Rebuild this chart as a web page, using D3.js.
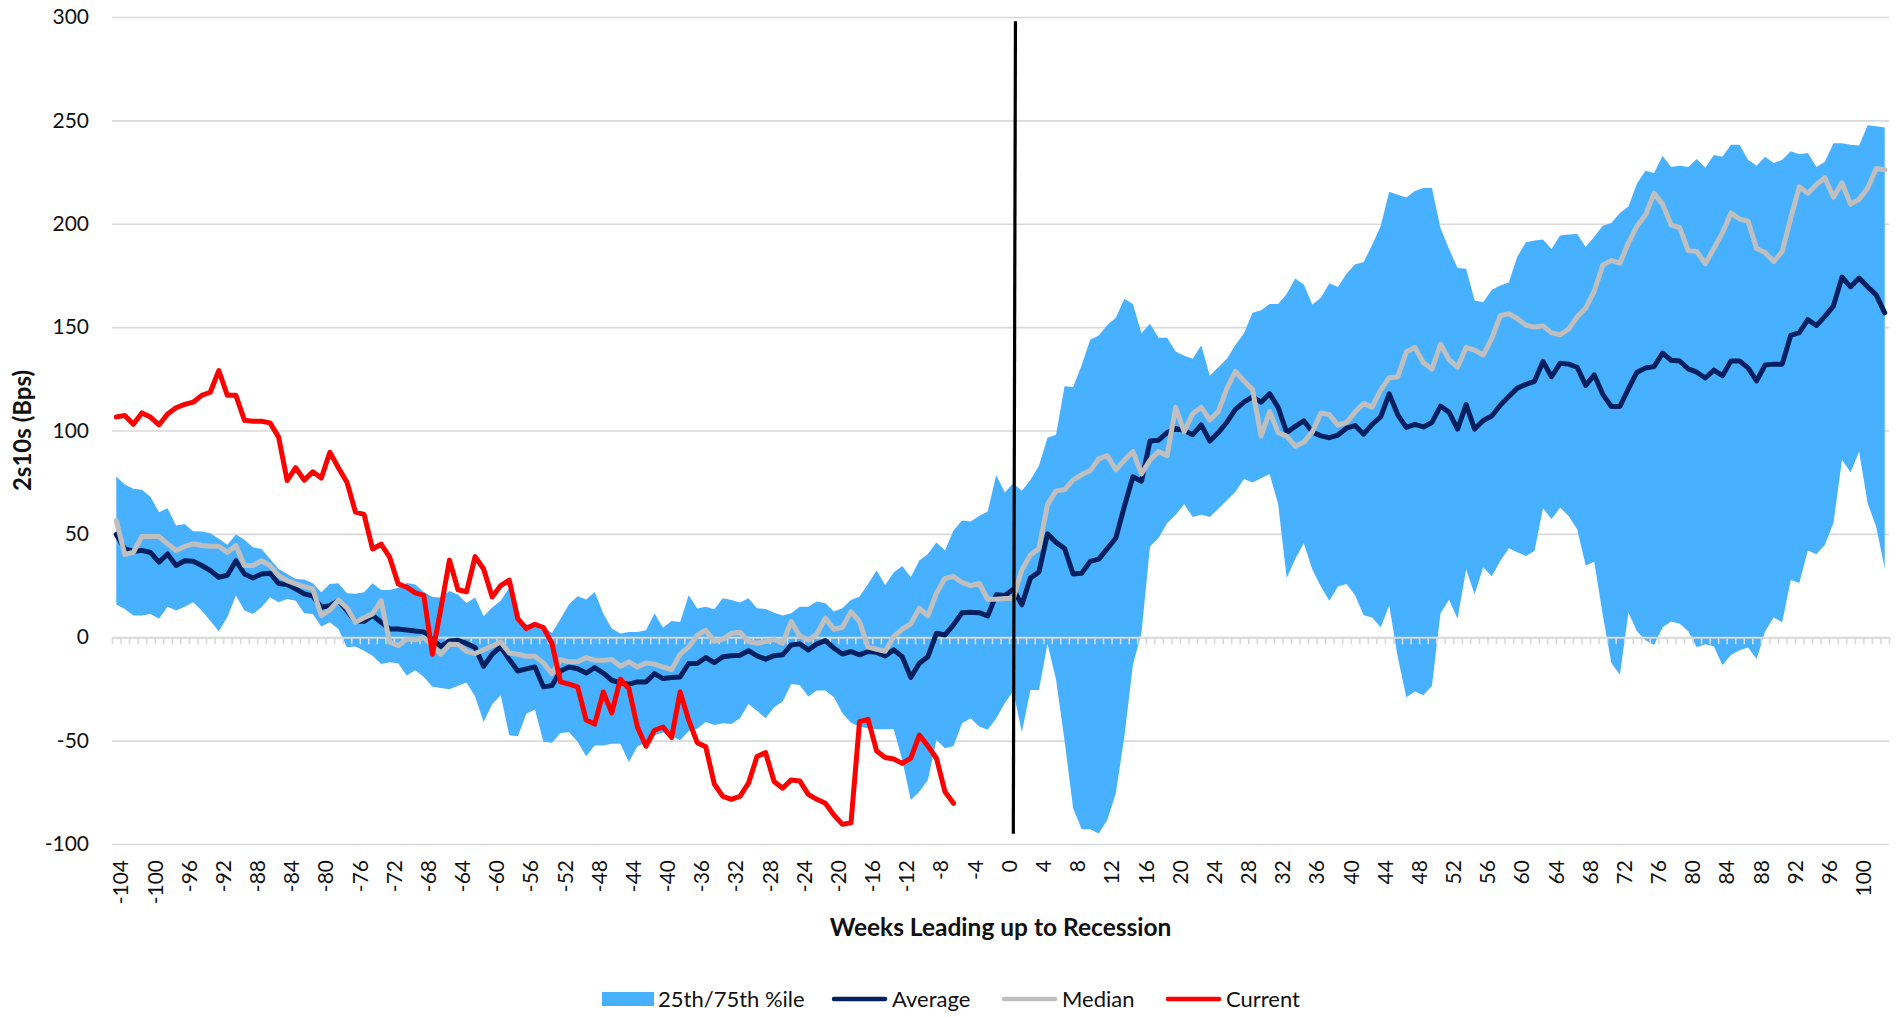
<!DOCTYPE html>
<html>
<head>
<meta charset="utf-8">
<script src="https://cdn.jsdelivr.net/npm/d3@7"></script>
<style>
  body { margin: 0; background: #fff; }
  text { font-family: Lato, "Open Sans", sans-serif; fill: #111; }
</style>
</head>
<body>
<div id="chart"></div>
<script>
// weeks before/after the start of a recession (categories)
const weeks = d3.range(-104, 104);

// 25th / 75th percentile band
const upper = [77.7, 73.9, 71.8, 71.3, 68, 60.5, 62.4, 54, 54.8, 51.3, 51.1, 50.3, 47.6, 44.8, 49.7, 47.1, 43.5, 42.7, 37.9, 33, 30.6, 28.2, 27.9, 26.1, 21.8, 25.8, 26.1, 21.3, 21, 21.8, 26.1, 22.9, 22.9, 23.9, 26.3, 25.5,
  21.9, 19.5, 19.2, 22.4, 20.6, 16.6, 19.2, 10.2, 14.4, 17.6, 24, 8.5, 6.3, 5.8, 5, 2.1, 9, 16, 19.8, 18.2, 21.9, 11.5, 4.2, 1.8, 2.6, 2.6, 3.4, 11.5, 4.7, 7.9, 7.4, 20.3, 13.9, 14.7, 13.5,
  18.9, 18, 16.8, 18.9, 14, 13.7, 11.9, 10.5, 11.6, 14.8, 14.8, 17.3, 16.5, 12.4, 14, 18, 19.7, 25.8, 32.3, 25.3, 31.3, 34.5, 29, 37.1, 40.3, 45.8, 41.9, 51.6, 56.5, 56, 58.7, 60.8, 78.5, 70, 74.5,
  70.8, 76.1, 83, 96.5, 98, 121.4, 121, 131.6, 143.9, 145.9, 151, 154.5, 163.7, 161.2, 147, 151.6, 144.9, 144.9, 138.2, 136.1, 134.7, 141.2, 126.5, 130.6, 134.7, 141.4, 147, 157, 158.2, 161.2, 161.2, 166, 173.5, 170.6,
  161, 164.2, 171.2, 169.4, 175.8, 180.4, 181.4, 189.7, 198.9, 215.5, 214, 212.7, 215.9, 217.3, 217.3, 198, 187.8, 178.6, 178.2, 162.9, 162, 167.9, 170.1, 171.6, 184.1, 191, 191.9, 192.4, 187.8, 194.3, 194.8, 195, 188.7, 193.7, 199,
  200.4, 205.2, 208.4, 219.5, 225.6, 224.6, 232.8, 227.5, 228, 227.5, 231.3, 227.1, 233.2, 232.4, 238.2, 238.2, 230.9, 228, 232.4, 229.4, 230.9, 235.1, 233.6, 234.2, 227.5, 230, 238.9, 238.9, 238.2, 237.8, 247.7, 247.1, 246.6];

const lower = [15.8, 13.7, 10.5, 10.5, 11.3, 8.9, 14.8, 12.9, 14.8, 16.9, 12.9, 8, 2.9, 9.7, 20.2, 12.9, 11.3, 14.5, 19.4, 16.9, 18.5, 17.7, 11.6, 11.3, 5.2, 7.3, 4, -4.8, -4.5, -6.5, -8.9, -12.9, -12.1, -12.6, -18.5, -16,
  -19.2, -24, -24.5, -25.2, -23.4, -21.9, -28.5, -41, -32.4, -28, -47.4, -47.9, -37, -35, -50.6, -51, -46.3, -46, -50.6, -57.6, -52.3, -52.3, -51.5, -51.5, -60.3, -52.7, -51, -47.4, -46.1, -47.9, -49.8, -45.3, -44.2, -41, -42.5,
  -41.6, -41.9, -39.2, -32.3, -35.5, -39.2, -33.9, -31.1, -22.6, -23.1, -28.7, -25.8, -25.8, -29, -36.8, -41.3, -43.2, -44, -44.5, -44.5, -44.5, -59.4, -78.7, -74.7, -69, -49.7, -53.7, -52.6, -41.6, -39.2, -43.2, -44.8, -39.2, -31.9, -26,
  -46, -25.5, -25.5, -3.1, -20.4, -50, -82.7, -92.9, -92.9, -94.9, -88.4, -75.5, -48, -13.3, 2, 43.9, 48, 55.1, 59.2, 64.3, 58.2, 59.2, 58.2, 62.2, 66.3, 70.4, 76.5, 74.9, 76.9, 79, 64.3, 28.6, 37.8, 45.5,
  32.8, 24.5, 17.7, 24.5, 25.8, 20.3, 10.7, 9.6, 4.8, 15.3, -9.6, -29, -26.2, -28, -23.4, 11.6, 18.1, 8.9, 32.8, 20.8, 33.8, 29.5, 36.9, 43, 41.1, 39.3, 41.7, 62.4, 57.2, 62.7, 58.7, 52.2, 34.7, 36.5, 10.6,
  -12.4, -18.1, 12, 2.9, -1.5, -3.8, 4.8, 7.6, 6.5, 2.9, -4.8, -3.4, -4.4, -13.4, -8.6, -6.3, -5, -10.5, 2.9, 9.5, 7.3, 27.7, 26.3, 42, 40.1, 44.8, 55.3, 85.9, 79.8, 89.7, 64.9, 53.4, 33.4];

const average = [49.7, 42.7, 41.6, 42, 41, 36.3, 40.3, 34.7, 37, 36.8, 34.7, 32.3, 29, 30, 37, 30.6, 28.7, 30.6, 31, 26, 25.5, 23.4, 21, 20, 14.5, 15.3, 17.7, 12.9, 7.7, 7.7, 10.5, 7.3, 4, 4, 3.5, 3,
  2.6, -1.1, -4.4, -1.8, -1.5, -3, -5, -14, -8.2, -4.7, -10.8, -16.3, -15.3, -14.4, -24, -23.4, -16.3, -14.4, -15.2, -17.3, -14.7, -17.3, -20.8, -22, -22.7, -21.6, -21.6, -17.6, -20, -19.5, -19.2, -12.7, -12.7, -9.8, -12.3,
  -9.4, -9, -8.7, -6.5, -9, -10.6, -8.9, -8.5, -3.7, -3.2, -6.1, -3.2, -1.6, -5.3, -8.1, -6.9, -8.5, -6.9, -7.3, -9, -6.1, -9.4, -19.4, -12.6, -9.4, 1.9, 1.1, 6, 11.9, 12.1, 11.9, 10.3, 20.5, 20.2, 23.2,
  15.7, 28.6, 31.6, 50, 45.9, 42.9, 30.6, 31, 36.7, 37.8, 42.9, 48, 63.3, 77.6, 75.5, 94.9, 95.3, 99, 101, 100, 98, 102.7, 94.9, 99, 104, 110.2, 113.7, 116.3, 113.7, 117.8, 111.2, 99, 102, 104.7,
  99.3, 97.4, 96.5, 97.8, 101.1, 102.4, 98.2, 103, 106.6, 117.7, 107.6, 101.5, 103, 101.7, 103.9, 111.8, 108.9, 100.7, 112.5, 100.7, 104.8, 107, 112.2, 116.4, 120.5, 122.3, 123.8, 133.4, 126, 132.5, 132.1, 130.6, 121.8, 126.9, 117.5,
  111.6, 111.6, 120.2, 128.2, 130.2, 130.9, 137.4, 134, 133.6, 129.8, 128.2, 125.4, 129.2, 126.5, 133.6, 133.6, 130.3, 124, 131.7, 132.1, 132.1, 146, 147.3, 153.6, 150.8, 155.2, 160.3, 174.2, 169.5, 173.7, 169.5, 165.6, 156.9];

const median = [56.5, 40, 41.1, 48.7, 48.7, 48.7, 45.2, 42, 43.9, 45.2, 44.4, 44, 44, 41.1, 44.4, 34.7, 34.7, 37, 34.7, 29.8, 27.4, 25.8, 24.5, 23.4, 10.5, 13.2, 18, 14.2, 7.3, 9.4, 11.3, 17.7, -2.4, -4, -0.8, -1.2,
  -0.2, -3.9, -8.2, -3.4, -3.5, -6.8, -7.9, -6, -4.2, -2.3, -7.6, -8.2, -9.2, -9.2, -12.4, -17.6, -10.8, -11.9, -11.9, -9.8, -11.1, -11.1, -10.8, -14, -11.9, -14.4, -12.4, -13, -14.4, -15.6, -8.2, -4.7, 1, 3.4, -2,
  -1, 1.9, 2.4, -2.1, -2.9, -2.1, -1, -2.9, 7.6, 0.6, -1.3, 1.6, 9.2, 3.9, 4.8, 12.4, 7.6, -4.8, -5.8, -6.8, 0.3, 3.9, 6.5, 14, 10.3, 21.3, 28.5, 29.4, 26.5, 25, 26.1, 18.4, 18.4, 18.7, 18.9,
  32.7, 39.8, 42.9, 64.3, 70.8, 71.4, 76.1, 78.6, 80.6, 86.3, 87.8, 81, 85.7, 89.8, 79, 85.7, 89.8, 87.8, 111.2, 99.4, 108.2, 111.2, 105.1, 109.2, 120.4, 128.6, 123.9, 119.8, 97.3, 109.2, 99, 97.3, 92.4, 94.3,
  99.3, 108.5, 107.6, 102.6, 103.9, 108.9, 113.1, 111.3, 119.6, 125.5, 126, 138, 140.2, 132.8, 129.7, 141.7, 134.3, 130.6, 140.2, 138.9, 136.5, 144.5, 155.5, 156.5, 154.2, 150.9, 150, 150.6, 147.2, 146.3, 149.1, 155, 159.2, 167.5, 180,
  182.3, 180.9, 190.8, 198.9, 204.2, 214.7, 209.5, 199.4, 198.1, 187, 186.6, 180.7, 188, 195.6, 205.2, 202.3, 201.3, 188, 186.1, 181.7, 186.6, 202.7, 217.9, 214.7, 218.9, 222.3, 212.8, 219.8, 209.5, 211.8, 217.2, 226.7, 226.1];

// current cycle, only up to week -6
const current = [106.5, 107.3, 103, 108.5, 106.5, 102.7, 108, 111, 112.6, 113.7, 117, 118.5, 129, 117, 117, 105, 104.5, 104.5, 103.7, 96.8, 75.8, 82, 76, 80, 77, 89.5, 82, 75, 60.5, 59.4, 42.7, 45, 38.7, 25.8, 24.2, 21.5,
  20.3, -8.2, 14, 37.3, 23, 22, 39, 33, 19.5, 25, 27.6, 9, 4.2, 6.3, 4.7, -3, -21.6, -22.7, -24, -40, -42, -26.5, -36.6, -20.3, -24.8, -43.4, -52.7, -45, -43.4, -48.5, -26.5, -40, -51, -53, -71,
  -77, -78.4, -77, -70.6, -57.7, -55.8, -69.8, -73, -69, -69.5, -76, -78.4, -80.3, -86, -90.5, -89.7, -40.8, -39.7, -55, -58.2, -58.9, -61, -58.5, -47.3, -52.6, -58.5, -74.7, -80.3];

// recession start marker (week, bps)
const recessionWeeks = [1.25, 1.0];
const recessionValues = [298, -95];

const yTicks = [-100, -50, 0, 50, 100, 150, 200, 250, 300];
const xTickLabels = [-104, -100, -96, -92, -88, -84, -80, -76, -72, -68, -64, -60, -56, -52, -48, -44, -40, -36, -32, -28, -24, -20, -16, -12, -8, -4, 0, 4, 8, 12, 16, 20, 24, 28, 32, 36, 40, 44, 48, 52, 56, 60, 64, 68, 72, 76, 80, 84, 88, 92, 96, 100];

const legendLabels = ["25th/75th %ile", "Average", "Median", "Current"];

const width = 1898, height = 1017;
const plotLeft = 112, plotRight = 1889, plotTop = 17, plotBottom = 844;

const colBand = "#48b1ff", colAvg = "#002060", colMed = "#bfbfbf", colCur = "#ff0000", colGrid = "#d9d9d9";

const svg = d3.select("#chart").append("svg")
  .attr("width", width)
  .attr("height", height);

const x = d3.scaleLinear().domain([weeks[0] - 0.5, weeks[weeks.length - 1] + 0.5]).range([plotLeft, plotRight]);
const y = d3.scaleLinear().domain([-100, 300]).range([plotBottom, plotTop]);

// gridlines
svg.append("g")
  .attr("transform", `translate(${plotLeft},0)`)
  .call(d3.axisLeft(y).tickValues(yTicks).tickSize(-(plotRight - plotLeft)).tickFormat(""))
  .call(g => g.select(".domain").remove())
  .call(g => g.selectAll("line").attr("stroke", colGrid).attr("stroke-width", 1.6));

// y labels (plain hyphen like the original)
svg.append("g")
  .attr("transform", `translate(${plotLeft},0)`)
  .call(d3.axisLeft(y).tickValues(yTicks).tickSize(0).tickPadding(23).tickFormat(d => String(d)))
  .call(g => g.select(".domain").remove())
  .call(g => g.selectAll("text").attr("font-size", 21).attr("font-family", "Lato, sans-serif").attr("fill", "#111"));

// band
const bandData = weeks.map((w, i) => ({ w, lo: lower[i], hi: upper[i] }));
svg.append("path")
  .datum(bandData)
  .attr("fill", colBand)
  .attr("d", d3.area().x(d => x(d.w)).y0(d => y(d.lo)).y1(d => y(d.hi)));

// zero axis line with category ticks
svg.append("g")
  .attr("transform", `translate(0,${y(0)})`)
  .call(d3.axisBottom(x).tickValues(d3.range(weeks.length + 1).map(j => weeks[0] - 0.5 + j)).tickSize(7).tickFormat("").tickSizeOuter(0))
  .call(g => g.select(".domain").attr("stroke", colGrid).attr("stroke-width", 2))
  .call(g => g.selectAll("line").attr("stroke", colGrid).attr("stroke-width", 1.6));

// x labels at the bottom
svg.append("g")
  .attr("transform", `translate(0,${plotBottom})`)
  .call(d3.axisBottom(x).tickValues(xTickLabels).tickSize(0).tickFormat(d => String(d)))
  .call(g => g.select(".domain").remove())
  .call(g => g.selectAll("text")
    .attr("transform", "rotate(-90)")
    .attr("text-anchor", "end")
    .attr("x", -16)
    .attr("y", 0)
    .attr("dy", "0.55em")
    .attr("font-size", 21)
    .attr("font-family", "Lato, sans-serif")
    .attr("fill", "#111"));

// lines
const line = d3.line().x(d => x(d[0])).y(d => y(d[1]));
const series = [
  { values: average, color: colAvg },
  { values: median, color: colMed },
  { values: current, color: colCur }
];
series.forEach(s => {
  svg.append("path")
    .datum(s.values.map((v, i) => [weeks[i], v]))
    .attr("fill", "none")
    .attr("stroke", s.color)
    .attr("stroke-width", 5)
    .attr("stroke-linejoin", "round")
    .attr("stroke-linecap", "round")
    .attr("d", line);
});

// recession marker
svg.append("path")
  .datum(recessionWeeks.map((w, i) => [w, recessionValues[i]]))
  .attr("fill", "none")
  .attr("stroke", "#000")
  .attr("stroke-width", 3.2)
  .attr("d", line);

// axis titles
svg.append("text")
  .attr("x", (plotLeft + plotRight) / 2)
  .attr("y", 936)
  .attr("text-anchor", "middle")
  .attr("font-size", 24.5)
  .attr("font-weight", "bold")
  .text("Weeks Leading up to Recession");

svg.append("text")
  .attr("transform", `translate(31,${(plotTop + plotBottom) / 2}) rotate(-90)`)
  .attr("text-anchor", "middle")
  .attr("font-size", 24)
  .attr("font-weight", "bold")
  .text("2s10s (Bps)");

// legend: symbol start and text start of each entry
const legendColors = [colBand, colAvg, colMed, colCur];
const legendSymbolX = [602, 832, 1002, 1166];
const ly = 999;
legendLabels.forEach((label, i) => {
  const g = svg.append("g");
  const sx = legendSymbolX[i];
  if (i === 0) {
    g.append("rect").attr("x", sx).attr("y", ly - 7).attr("width", 52).attr("height", 14).attr("fill", legendColors[i]);
  } else {
    g.append("line").attr("x1", sx + 2).attr("x2", sx + 53).attr("y1", ly).attr("y2", ly)
      .attr("stroke", legendColors[i]).attr("stroke-width", 4.5).attr("stroke-linecap", "round");
  }
  g.append("text").attr("x", sx + (i === 0 ? 56 : 60)).attr("y", ly).attr("dy", "0.35em")
    .attr("font-size", 22).text(label);
});
</script>
</body>
</html>
